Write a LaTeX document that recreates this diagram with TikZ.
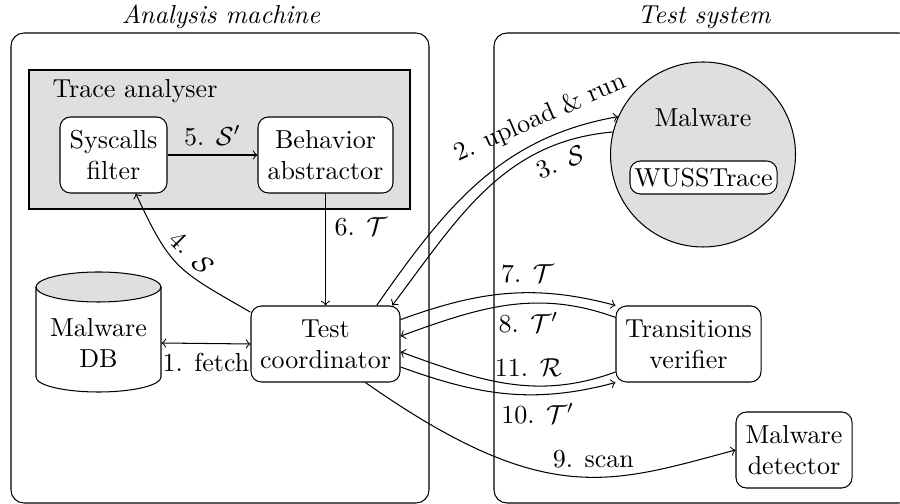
\documentclass[tikz,border=0pt]{standalone}
\usetikzlibrary{calc}
\newdimen\pxu
\pxu=0.3846pt
\begin{document}
\begin{tikzpicture}[x=0.3846pt,y=0.3846pt,
  box/.style={draw, rounded corners=4pt, fill=white, align=center, minimum height=76*\pxu, inner sep=1pt},
  outerbox/.style={draw, rounded corners=5pt},
  graybox/.style={draw, fill=gray!25},
  title/.style={font=\itshape}]
\clip (0,0) rectangle (900,504);
% outer containers
\draw[outerbox] (11,1) rectangle (429,471);
\node[title] (ttl1) at (221,487) {Analysis machine};
\draw[outerbox] (494,1) rectangle (912,471);
\node[title] (ttl2) at (704,487) {Test system};
% trace analyser
\draw[graybox] (29,295) rectangle (410,434);
\node[anchor=base west, inner sep=0] (ta) at (52,406) {Trace analyser};
\node[box, minimum width=107*\pxu] (filter) at (113.5,349) {Syscalls\\filter};
\node[box, minimum width=135*\pxu] (beh) at (325.5,349) {Behavior\\abstractor};
% malware circle
\node[circle, draw, fill=gray!25, minimum size=185*\pxu] (mal) at (703,349.5) {};
\node (maltxt) at (703,386) {Malware};
\node[draw, rounded corners=4pt, fill=white, minimum width=147*\pxu, minimum height=33*\pxu, inner sep=1pt] (wuss) at (703.5,326.5) {WUSSTrace};
% database cylinder
\draw[fill=white] (36,217) -- (36,127) arc[start angle=180, end angle=360, x radius=62.5*\pxu, y radius=15*\pxu] -- (161,217);
\draw[fill=gray!25] (98.5,217) ellipse [x radius=62.5*\pxu, y radius=15*\pxu];
\node[minimum width=125*\pxu, inner sep=0, align=center] (db) at (98.5,161) {Malware\\DB};
% other nodes
\node[box, minimum width=149*\pxu] (coord) at (325.5,160) {Test\\coordinator};
\node[box, minimum width=145*\pxu] (ver) at (688.5,160) {Transitions\\verifier};
\node[box, minimum width=116*\pxu] (det) at (794,54) {Malware\\detector};
% connectors
\draw[<->] (db.east) -- node[below] {1. fetch} (coord.west);
\draw[->] (filter) -- node[above] {5. $\mathcal{S}'$} (beh);
\draw[->] (beh) -- node[right, pos=0.3] {6. $\mathcal{T}$} (coord);
\draw[->] (coord.157) to[out=150,in=-65,looseness=1.3] node[sloped, above] {4. $\mathcal{S}$} (filter.-60);
\draw[->] (coord.37.5) to[out=55,in=190] node[sloped, above, pos=0.78] {2. upload \& run} (mal.156);
\draw[->] (mal.166) to[out=185,in=53] node[sloped, below, pos=0.2] {3. $\mathcal{S}$} (coord.30);
\draw[->] (coord.18) to[out=20,in=165] node[above, pos=0.6] {7. $\mathcal{T}$} (ver.north west);
\draw[->] (ver.160) to[out=160,in=20] node[below, pos=0.4] {8. $\mathcal{T}'$} (coord.6);
\draw[->] (ver.-159) to[out=200,in=-20] node[above, pos=0.4] {11. $\mathcal{R}$} (coord.-6);
\draw[->] (coord.-17) to[out=-20,in=195] node[below, pos=0.65] {10. $\mathcal{T}'$} (ver.south west);
\draw[->] (coord.-44) .. controls +(-35:220) and +(195:130) .. node[above, pos=0.57] {9. scan} (det.west);
\end{tikzpicture}
\end{document}
